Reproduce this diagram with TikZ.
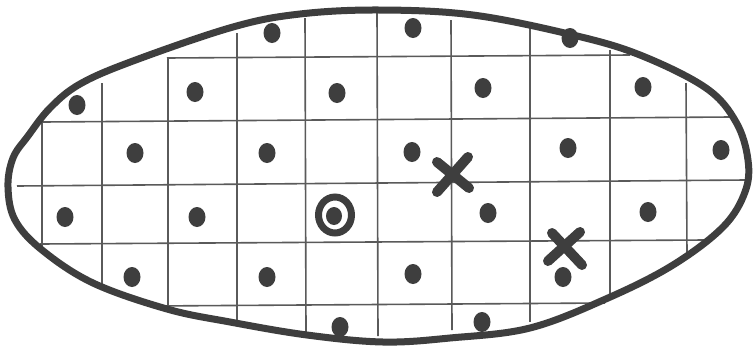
\documentclass[tikz,border=0pt]{standalone}
\usepackage{tikz}
\definecolor{ink}{HTML}{3E3E3E}
\definecolor{gridc}{HTML}{5A5A5A}
\tikzset{
  gridline/.style={draw=gridc, line width=1.6pt},
  outline/.style={draw=ink, line width=7pt, line join=round},
  dotmark/.style={fill=ink},
  xmark/.style={draw=ink, line width=10pt, line cap=round},
}
\begin{document}
\begin{tikzpicture}[x=1pt,y=-1pt]
\useasboundingbox (0,0) rectangle (753,349);
\fill[white] (0,0) rectangle (753,349);
% vertical grid lines
\draw[gridline] (42,122) -- (42,246);
\draw[gridline] (102,83) -- (102,290);
\draw[gridline] (168,58) -- (168,312);
\draw[gridline] (237,33) -- (237,325);
\draw[gridline] (305,18) -- (306,332);
\draw[gridline] (377,12) -- (378,336);
\draw[gridline] (451,20) -- (452,330);
\draw[gridline] (530,28) -- (530,322);
\draw[gridline] (610,50) -- (610,298);
\draw[gridline] (686,83) -- (687,254);
% horizontal grid lines
\draw[gridline] (167,58) -- (630,55);
\draw[gridline] (43,122) -- (730,117);
\draw[gridline] (17,186) -- (745,180);
\draw[gridline] (40,244) -- (705,240);
\draw[gridline] (152,306) -- (605,303);
% outline
\draw[outline] plot[smooth cycle, tension=0.6] coordinates {
  (8,187) (13,158) (28,136) (50,108) (80,84) (133,61) (233,27) (300,14)
  (380,10) (473,15) (573,35) (640,55) (706,88) (736,122) (748,160)
  (745,192) (723,227) (673,265) (608,298) (530,328) (450,338) (383,342)
  (307,335) (230,322) (167,309) (93,283) (42,250) (15,220)};
% dots
\foreach \p in {(272,33),(413,28),(570,38),(77,105),(195,92),(337,93),(483,88),(643,87),
  (135,153),(267,153),(412,152),(568,148),(721,150),(65,217),(197,217),(488,213),(648,212),
  (132,277),(267,277),(413,274),(563,277),(340,327),(482,322)}
  \fill[dotmark] \p ellipse [x radius=8.5pt, y radius=10pt];
% circled dot
\draw[ink, line width=7pt] (335,215) ellipse [x radius=16.5pt, y radius=18pt];
\fill[dotmark] (334,216) ellipse [x radius=8pt, y radius=9pt];
% crosses
\coordinate (xa1) at (437,162); \coordinate (xa2) at (469,188);
\coordinate (xa3) at (468,157); \coordinate (xa4) at (437,192);
\draw[xmark] (xa1) -- (xa2);
\draw[xmark] (xa3) -- (xa4);
\coordinate (xb1) at (552,233); \coordinate (xb2) at (582,265);
\coordinate (xb3) at (580,232); \coordinate (xb4) at (548,261);
\draw[xmark] (xb1) -- (xb2);
\draw[xmark] (xb3) -- (xb4);
\end{tikzpicture}
\end{document}
